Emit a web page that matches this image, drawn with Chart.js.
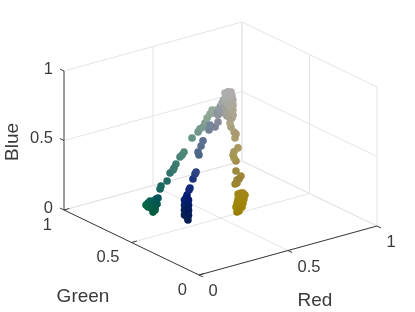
<!DOCTYPE html>
<html>
<head>
<meta charset="utf-8">
<script src="https://cdn.jsdelivr.net/npm/chart.js@4"></script>
<style>
  html, body { margin: 0; background: #fff; }
  #wrap { width: 415px; height: 312px; }
</style>
</head>
<body>
<div id="wrap"><canvas id="cube" width="415" height="312"></canvas></div>
<script>
// ── Data: each point is a colour, placed in RGB space ─────────────────────
const red = [
  // green arm
  .02,.02,.02,.02,.02,.02,.02,.02,.02,.02,.02,.02,.02,
  .08,.10,.14,.18,.20,.24,.28,.32,.40,.44,.46,.48,.50,.56,.58,.60,
  .30,.22,.54,.58,
  // blue arm
  .02,.02,.02,.02,.02,.02,.02,.02,.02,.02,
  .02,.02,.02,.02,.02,.02,.02,.02,
  .06,.07,.12,.16,.18,.30,.30,.34,.36,.44,.46,.48,.52,.54,.58,.62,
  // yellow arm
  .583,.624,.63,.616,.624,.63,.617,.635,.642,.655,.643,
  .63,.641,.621,.633,.64,.618,.627,.606,.608,.598,
  .612,.614,.637,.615,.608,.627,.641,.67,.671,.671,.656,.664,
  .647,.643,.663,.661,
  // trunk
  .669,.688,.673,.688,.65,.669,.693,.633,.656,.686,.627,.611,.657,.68,.62,
  .554,.581,.614,.647,.681,.639,.676,.67,.679,.658,.679,.668,.683,.673,.67,.689,.679
];
const green = [
  .419,.404,.389,.375,.36,.345,.33,.404,.382,.367,.352,.337,.352,
  .394,.413,.421,.452,.456,.487,.51,.533,.579,.587,.599,.603,.615,.657,.659,.665,
  .521,.475,.652,.668,
  .108,.115,.123,.123,.123,.123,.115,.115,.108,.13,
  .134,.134,.134,.134,.104,.104,.104,.104,
  .153,.159,.203,.241,.259,.396,.403,.433,.445,.506,.525,.514,.545,.578,.607,.637,
  .487,.533,.527,.516,.511,.511,.524,.526,.521,.523,.515,
  .526,.519,.53,.523,.518,.533,.508,.525,.505,.521,
  .526,.528,.529,.537,.505,.553,.593,.595,.618,.625,.628,.631,
  .594,.588,.60,.642,
  .682,.663,.673,.656,.664,.667,.661,.641,.65,.653,.656,.621,.637,.644,.61,
  .59,.603,.624,.631,.653,.635,.654,.661,.658,.667,.658,.681,.671,.68,.691,.671,.68
];
const blue = [
  .30,.322,.343,.328,.357,.378,.392,.293,.296,.274,.31,.346,.296,
  .406,.412,.43,.459,.472,.486,.512,.523,.574,.60,.609,.614,.63,.654,.653,.665,
  .514,.47,.634,.67,
  .338,.356,.388,.424,.46,.489,.514,.406,.446,.406,
  .47,.434,.398,.362,.483,.447,.411,.375,
  .519,.527,.553,.558,.556,.573,.591,.605,.63,.651,.672,.655,.663,.704,.726,.742,
  .02,.02,.02,.06,.08,.10,.12,.12,.12,.10,.08,
  .10,.10,.08,.05,.05,.05,.03,.03,.01,.20,
  .20,.22,.24,.28,.24,.34,.36,.40,.46,.50,.54,.60,
  .38,.34,.50,.56,
  .74,.735,.715,.71,.72,.69,.67,.70,.66,.64,.71,.66,.60,.61,.64,
  .68,.70,.70,.62,.62,.65,.65,.67,.69,.70,.72,.72,.74,.74,.75,.76,.76
];

const tickValues = [0, 0.5, 1];
const tickLabels = ['0', '0.5', '1'];

// ── Oblique view of the unit cube, in page pixels ─────────────────────────
const view = { x0: 199, y0: 275, rx: 178, gx: -135, ry: -49, gy: -65, by: -139 };

function project(r, g, b) {
  return {
    x: view.x0 + view.rx * r + view.gx * g,
    y: view.y0 + view.ry * r + view.gy * g + view.by * b,
  };
}

// list of [from, to] cube coords -> one polyline with gaps between segments
function segments(list) {
  const pts = [];
  list.forEach(([a, b]) => pts.push(project(...a), project(...b), { x: null, y: null }));
  return pts;
}

const gridLines = [];
tickValues.forEach(t => {
  gridLines.push([[t, 0, 0], [t, 1, 0]]);   // floor
  gridLines.push([[0, t, 0], [1, t, 0]]);
  gridLines.push([[0, 1, t], [1, 1, t]]);   // back left wall
  gridLines.push([[1, 0, t], [1, 1, t]]);   // back right wall
  if (t > 0) gridLines.push([[t, 1, 0], [t, 1, 1]]);
  gridLines.push([[1, t, 0], [1, t, 1]]);
});

const axisLines = [
  [[0, 1, 0], [0, 1, 1]],
  [[0, 1, 0], [0, 0, 0]],
  [[0, 0, 0], [1, 0, 0]],
];
tickValues.forEach(t => {
  axisLines.push([[0, 1, t], [0, 1.03, t]]);
  axisLines.push([[0, t, 0], [0.03, t, 0]]);
  axisLines.push([[t, 0, 0], [t, -0.03, 0]]);
});

const points = red.map((r, i) => project(r, green[i], blue[i]));
const pointColors = red.map((r, i) =>
  `rgb(${Math.round(r * 255)},${Math.round(green[i] * 255)},${Math.round(blue[i] * 0.9 * 255)})`);

// tick labels hang off the axes, dx/dy are the text offsets from the tick
const labelSets = [
  { at: t => [0, 1, t], align: 'right', dx: -11, dy: -2 },
  { at: t => [t, 0, 0], align: 'left', dx: 9.5, dy: 16.5 },
  { at: t => [0, t, 0], align: 'right', dx: -12, dy: 15 },
];

const cubeLabels = {
  id: 'cubeLabels',
  afterDraw(chart) {
    const { ctx, scales: { x, y } } = chart;
    ctx.save();
    ctx.fillStyle = '#3a3a3a';
    ctx.font = "16.5px 'Liberation Sans', Arial, sans-serif";
    ctx.textBaseline = 'middle';
    labelSets.forEach(set => {
      ctx.textAlign = set.align;
      tickValues.forEach((t, i) => {
        const p = project(...set.at(t));
        ctx.fillText(tickLabels[i], x.getPixelForValue(p.x) + set.dx, y.getPixelForValue(p.y) + set.dy);
      });
    });
    ctx.font = "19px 'Liberation Sans', Arial, sans-serif";
    ctx.textAlign = 'center';
    ctx.fillText('Green', 83, 297);
    ctx.fillText('Red', 315, 301);
    ctx.translate(13, 142);
    ctx.rotate(-Math.PI / 2);
    ctx.fillText('Blue', 0, 0);
    ctx.restore();
  }
};

new Chart(document.getElementById('cube').getContext('2d'), {
  type: 'scatter',
  data: {
    datasets: [
      {
        data: points,
        pointRadius: 3.8,
        pointBorderWidth: 0,
        pointBackgroundColor: pointColors,
        showLine: false,
        order: 1,
      },
      {
        data: segments(gridLines),
        showLine: true,
        spanGaps: false,
        borderColor: '#e4e4e4',
        borderWidth: 1,
        pointRadius: 0,
        order: 3,
      },
      {
        data: segments(axisLines),
        showLine: true,
        spanGaps: false,
        borderColor: '#3a3a3a',
        borderWidth: 1,
        pointRadius: 0,
        order: 2,
      },
    ]
  },
  options: {
    responsive: false,
    animation: false,
    layout: { padding: 0, autoPadding: false },
    plugins: { legend: { display: false }, tooltip: { enabled: false } },
    scales: {
      x: { display: false, min: 0, max: 415 },
      y: { display: false, min: 0, max: 312, reverse: true },
    }
  },
  plugins: [cubeLabels]
});
</script>
</body>
</html>
